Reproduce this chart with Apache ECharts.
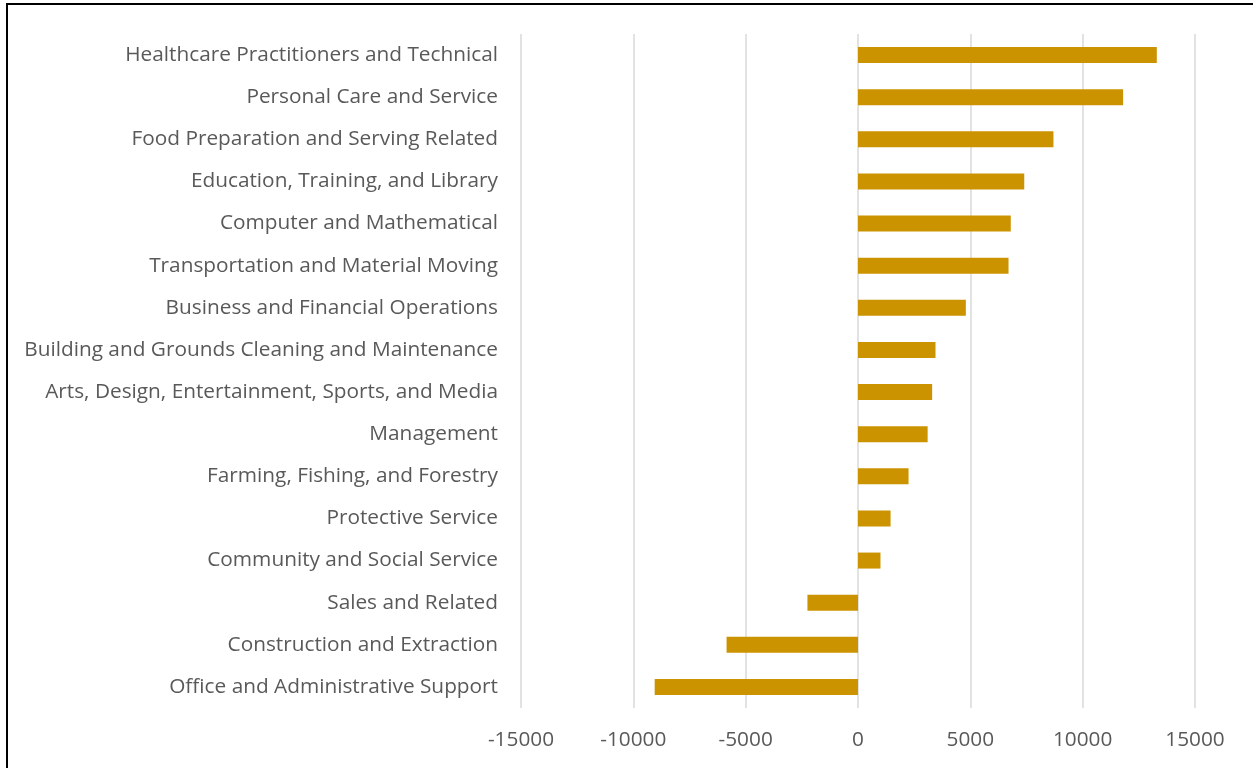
<!DOCTYPE html>
<html>
<head>
<meta charset="utf-8">
<script src="https://cdn.jsdelivr.net/npm/echarts@6/dist/echarts.min.js"></script>
<style>
  html, body { margin: 0; padding: 0; background: #fff; }
  #frame { position: absolute; left: 6px; top: 3px; width: 1400px; height: 900px;
           border-left: 2px solid #000; border-top: 2px solid #000; }
  #chart { position: absolute; left: 0; top: 0; width: 1253px; height: 768px; }
</style>
</head>
<body>
<div id="frame"></div>
<div id="chart"></div>
<script>
// occupation groups, top to bottom
const categories = [
  "Healthcare Practitioners and Technical",
  "Personal Care and Service",
  "Food Preparation and Serving Related",
  "Education, Training, and Library",
  "Computer and Mathematical",
  "Transportation and Material Moving",
  "Business and Financial Operations",
  "Building and Grounds Cleaning and Maintenance",
  "Arts, Design, Entertainment, Sports, and Media",
  "Management",
  "Farming, Fishing, and Forestry",
  "Protective Service",
  "Community and Social Service",
  "Sales and Related",
  "Construction and Extraction",
  "Office and Administrative Support",
]
const changes = [13300, 11800, 8700, 7400, 6800, 6700, 4800, 3450, 3300, 3100, 2250, 1450, 1000, -2250, -5850, -9050]
const xTicks = [-15000, 15000, 5000] // min, max, step

const chart = echarts.init(document.getElementById("chart"))

const option = {
  animation: false,
  textStyle: { fontFamily: "Open Sans" },
  grid: { left: 521, right: 58, top: 34, bottom: 60 },
  xAxis: {
    type: "value",
    min: xTicks[0],
    max: xTicks[1],
    interval: xTicks[2],
    axisLine: { show: false },
    axisTick: { show: false },
    axisLabel: { color: "#595959", fontSize: 20.8, margin: 22, formatter: (v) => String(v) },
    splitLine: { lineStyle: { color: "#d9d9d9", width: 1.5 } },
  },
  yAxis: {
    type: "category",
    inverse: true,
    data: categories,
    axisLine: { show: false },
    axisTick: { show: false },
    axisLabel: { color: "#595959", fontSize: 20.8, margin: 23 },
  },
  series: [
    {
      type: "bar",
      data: changes,
      barWidth: 16,
      itemStyle: { color: "#cc9300" },
    },
  ],
}

chart.setOption(option)
</script>
</body>
</html>
